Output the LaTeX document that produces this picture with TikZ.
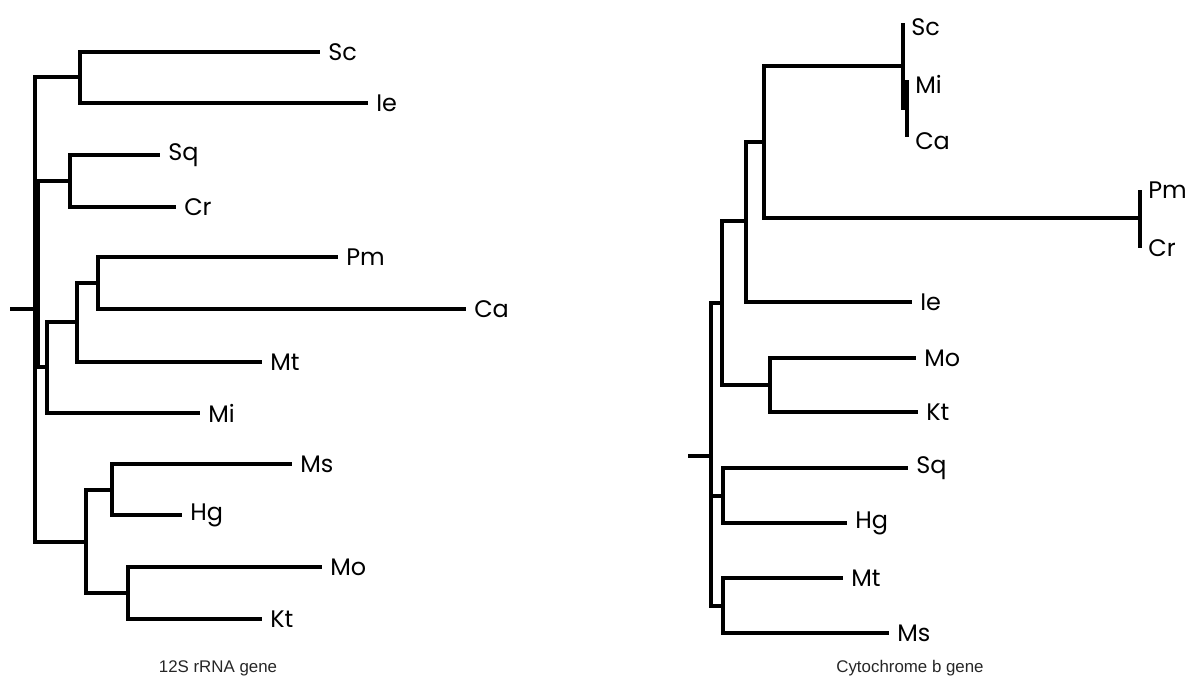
\documentclass[tikz,border=0pt]{standalone}
\usepackage{fontspec}
\setmainfont{Liberation Sans}
\newfontfamily\taxonfont{Poppins}
\usetikzlibrary{positioning}

\begin{document}
\begin{tikzpicture}[x=0.025cm,y=-0.025cm,
    branch/.style={line width=2.2pt},
    taxon/.style={font=\taxonfont\fontsize{17}{17}\selectfont, inner sep=0pt, anchor=west},
    genecap/.style={font=\fontsize{12}{14}\selectfont, text=black!85}]
  \useasboundingbox (0,0) rectangle (1198,684);

  % 12S rRNA gene
  \coordinate (sL) at (10,309);
  \coordinate (rL) at (35,309);
  \coordinate (a1) at (80,77);
  \coordinate (a2) at (38,275);
  \coordinate (a3) at (70,181);
  \coordinate (a4) at (47,367);
  \coordinate (a5) at (77,322);
  \coordinate (a6) at (98,283);
  \coordinate (a9) at (86,542);
  \coordinate (a10) at (112,490);
  \coordinate (a11) at (128,593);
  \coordinate (tLSc) at (320,52);
  \coordinate (tLIe) at (368,103);
  \coordinate (tLSq) at (160,155);
  \coordinate (tLCr) at (176,207);
  \coordinate (tLPm) at (338,257);
  \coordinate (tLCa) at (466,309);
  \coordinate (tLMt) at (262,362);
  \coordinate (tLMi) at (200,413);
  \coordinate (tLMs) at (292,464);
  \coordinate (tLHg) at (182,515);
  \coordinate (tLMo) at (322,567);
  \coordinate (tLKt) at (262,619);

  \draw[branch] (sL) -- (rL);
  \foreach \p/\c in {rL/a1,rL/a2,rL/a9,a1/tLSc,a1/tLIe,a2/a3,a2/a4,a3/tLSq,a3/tLCr,
      a4/a5,a4/tLMi,a5/a6,a5/tLMt,a6/tLPm,a6/tLCa,a9/a10,a9/a11,
      a10/tLMs,a10/tLHg,a11/tLMo,a11/tLKt}
    \draw[branch] (\p) |- (\c);
  \foreach \t in {Sc,Ie,Sq,Cr,Pm,Ca,Mt,Mi,Ms,Hg,Mo,Kt}
    \node[taxon, right=0.2cm of tL\t] (nL\t) {\t};
  \node[genecap] (capL) at (218,668) {12S rRNA gene};

  % Cytochrome b gene
  \coordinate (sR) at (688,456);
  \coordinate (rR) at (711,456);
  \coordinate (b1) at (722,303);
  \coordinate (b2) at (746,221);
  \coordinate (b3) at (764,142);
  \coordinate (b4) at (903,66);
  \coordinate (b9) at (907,108);
  \coordinate (b5) at (1140,218);
  \coordinate (b6) at (770,385);
  \coordinate (b7) at (723,496);
  \coordinate (b8) at (723,606);
  \coordinate (tRSc) at (903,23);
  \coordinate (tRMi) at (907,80);
  \coordinate (tRCa) at (907,137);
  \coordinate (tRPm) at (1140,190);
  \coordinate (tRCr) at (1140,248);
  \coordinate (tRIe) at (912,302);
  \coordinate (tRMo) at (916,358);
  \coordinate (tRKt) at (918,412);
  \coordinate (tRSq) at (908,468);
  \coordinate (tRHg) at (847,523);
  \coordinate (tRMt) at (843,578);
  \coordinate (tRMs) at (889,633);

  \draw[branch] (sR) -- (rR);
  \foreach \p/\c in {rR/b1,rR/b7,rR/b8,b1/b2,b1/b6,b2/b3,b2/tRIe,b3/b4,b3/b5,
      b4/tRSc,b4/b9,b9/tRMi,b9/tRCa,b5/tRPm,b5/tRCr,b6/tRMo,b6/tRKt,
      b7/tRSq,b7/tRHg,b8/tRMt,b8/tRMs}
    \draw[branch] (\p) |- (\c);
  \foreach \t in {Pm,Cr,Ie,Mo,Kt,Sq,Hg,Mt,Ms}
    \node[taxon, right=0.2cm of tR\t] (nR\t) {\t};
  \foreach \t in {Sc,Mi,Ca}
    \node[taxon, right=0.2cm of tR\t, yshift=-3pt] (nR\t) {\t};
  \node[genecap] (capR) at (910,668) {Cytochrome b gene};
\end{tikzpicture}
\end{document}
